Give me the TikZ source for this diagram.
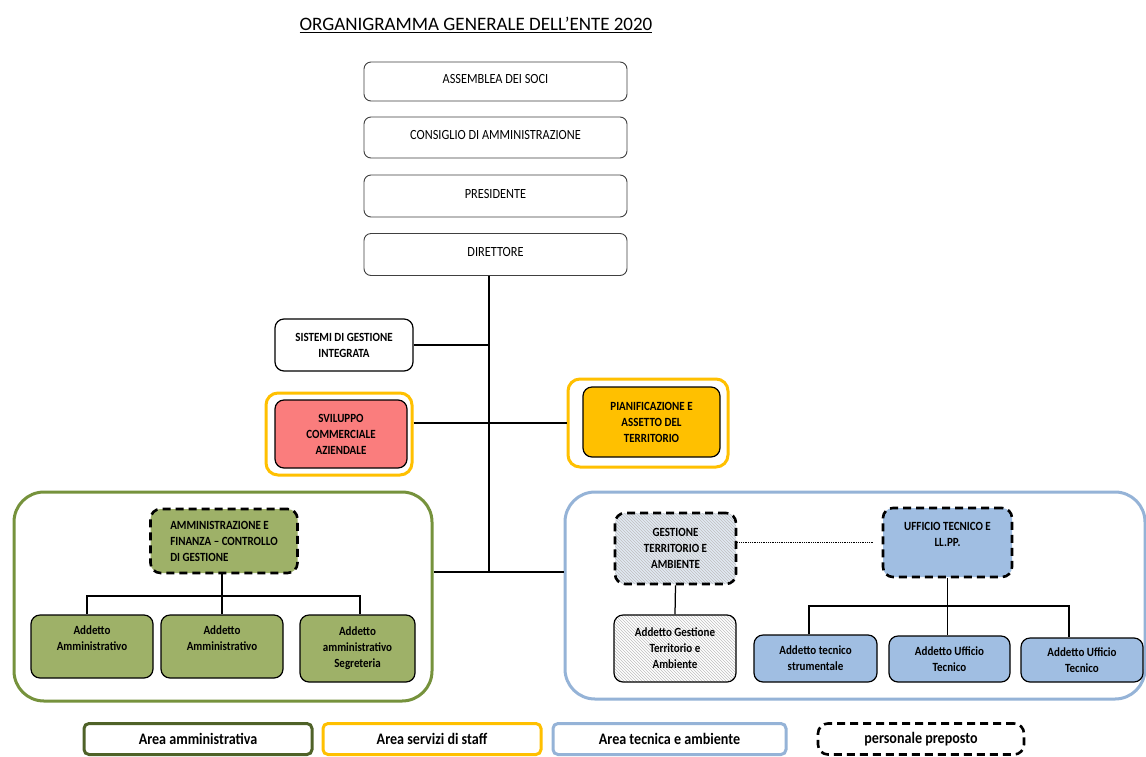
\documentclass[tikz,border=0pt]{standalone}
\usepackage{fontspec}
\setmainfont{Carlito}
\newfontfamily\cond{Carlito}[FakeStretch=0.88]
\usetikzlibrary{patterns}
\definecolor{frgreen}{RGB}{118,146,60}
\definecolor{lggreen}{RGB}{79,98,40}
\definecolor{fillgreen}{RGB}{158,177,104}
\definecolor{frblue}{RGB}{149,179,215}
\definecolor{fillblue}{RGB}{160,190,226}
\definecolor{hatchbg}{RGB}{225,233,243}
\definecolor{fryellow}{RGB}{255,192,0}
\definecolor{fillred}{RGB}{250,125,125}
\definecolor{fillorange}{RGB}{255,192,0}
\begin{document}
\begin{tikzpicture}[x=1pt,y=-1pt,
  sz/.style 2 args={minimum width=#1pt, minimum height=#2pt},
  topbox/.style={draw=black!75, line width=0.9pt, rounded corners=7pt, inner sep=0pt, font=\cond\fontsize{14}{16}\selectfont, text depth=5pt},
  unit/.style={draw=black, line width=1.2pt, rounded corners=9pt, inner sep=0pt, align=center, font=\cond\fontsize{12.5}{16}\bfseries\selectfont},
  preposto/.style={draw=black, line width=2.6pt, dash pattern=on 8pt off 5pt, rounded corners=10pt},
  hatched/.style={preaction={fill=#1}, pattern=north west lines, pattern color=black!25},
  staffframe/.style={draw=fryellow, line width=3pt, rounded corners=12pt, inner sep=0pt},
  areaframe/.style={line width=3pt, rounded corners=30pt, inner sep=0pt},
  legbox/.style={line width=3pt, rounded corners=5pt, inner sep=0pt, minimum height=31pt, font=\cond\fontsize{16}{18}\bfseries\selectfont},
  conn/.style={draw=black, line width=1.25pt}
]
\useasboundingbox[fill=white] (0,0) rectangle (1146,756);

% title
\node (title) at (476,25) {\fontsize{19}{22}\selectfont\underline{ORGANIGRAMMA GENERALE DELL’ENTE 2020}};

% area frames
\node[areaframe, draw=frgreen, sz={418}{209}] (areaA) at (223,596.5) {};
\node[areaframe, draw=frblue, sz={580}{207}] (areaB) at (855,595.5) {};

% staff frames
\node[staffframe, sz={146}{82}] (svilf) at (339,434) {};
\node[staffframe, sz={160}{88}] (pianf) at (648,423) {};

% top boxes
\node[topbox, sz={263}{39}] (ass) at (495.5,81.5) {ASSEMBLEA DEI SOCI};
\node[topbox, sz={263}{41}] (cons) at (495.5,137.5) {CONSIGLIO DI AMMINISTRAZIONE};
\node[topbox, sz={263}{42}] (pres) at (495.5,196) {PRESIDENTE};
\node[topbox, sz={263}{42}] (dir) at (495.5,254.5) {DIRETTORE};

% staff
\node[unit, fill=white, sz={138}{52}] (sis) at (344,345) {SISTEMI DI GESTIONE\\INTEGRATA};
\node[unit, fill=fillred, sz={132}{68}] (svil) at (341,434) {SVILUPPO\\COMMERCIALE\\AZIENDALE};
\node[unit, fill=fillorange, sz={137}{70}] (pian) at (651.5,422) {PIANIFICAZIONE E\\ASSETTO DEL\\TERRITORIO};

% area amministrativa
\node[unit, preposto, fill=fillgreen, align=left, sz={147}{64}] (amm) at (224,541) {AMMINISTRAZIONE E\\FINANZA – CONTROLLO\\DI GESTIONE};
\node[unit, fill=fillgreen, sz={122}{63}] (a1) at (92,646.5) {Addetto\\Amministrativo\\~};
\node[unit, fill=fillgreen, sz={122}{63}] (a2) at (222,646.5) {Addetto\\Amministrativo\\~};
\node[unit, fill=fillgreen, sz={115}{67}] (a3) at (357.5,648.5) {Addetto\\amministrativo\\Segreteria};

% area tecnica
\node[unit, preposto, hatched=hatchbg, sz={121}{71}] (gest) at (675.5,548.5) {GESTIONE\\TERRITORIO E\\AMBIENTE};
\node[unit, hatched=white, sz={122}{67}] (ag) at (675,648.5) {Addetto Gestione\\Territorio e\\Ambiente};
\node[unit, preposto, fill=fillblue, sz={129}{69}] (uff) at (947.5,542.5) {UFFICIO TECNICO E\\LL.PP.\\~};
\node[unit, fill=fillblue, sz={123}{47}] (t1) at (815.5,658.5) {Addetto tecnico\\strumentale};
\node[unit, fill=fillblue, sz={121}{46}] (t2) at (949.5,659) {Addetto Ufficio\\Tecnico};
\node[unit, fill=fillblue, sz={122}{44}] (t3) at (1082,660) {Addetto Ufficio\\Tecnico};

% legend
\node[legbox, draw=lggreen, minimum width=228pt] (l1) at (198,739) {Area amministrativa};
\node[legbox, draw=fryellow, minimum width=218pt] (l2) at (432,739) {Area servizi di staff};
\node[legbox, draw=frblue, minimum width=233pt] (l3) at (669.5,739) {Area tecnica e ambiente};
\node[legbox, preposto, minimum width=206pt] (l4) at (921,739) {personale preposto};

% connectors
\coordinate (trunk) at (489,572);
\draw[conn] (dir.south -| trunk) -- (trunk);
\draw[conn] (areaA.east |- trunk) -- (areaB.west |- trunk);
\draw[conn] (sis.east) -- (sis.east -| trunk);
\draw[conn] (svilf.east |- pianf.west) -- (pianf.west);

\coordinate (abus) at (222,596);
\draw[conn] (amm.south -| abus) -- (a2.north -| abus);
\draw[conn] ([xshift=-5pt]a1.north) -- ([xshift=-5pt]a1.north |- abus) -- ([xshift=2.5pt]a3.north |- abus) -- ([xshift=2.5pt]a3.north);

\draw[conn] (gest.south) -- (ag.north);
\draw[black, line width=0.8pt, densely dotted] (gest.east |- uff.west) -- ([xshift=-9pt]uff.west);
\coordinate (tbus) at (946,606);
\draw[conn] (uff.south) -- (uff.south |- t2.north);
\draw[conn] ([xshift=-6.5pt]t1.north) -- ([xshift=-6.5pt]t1.north |- tbus) -- ([xshift=-13pt]t3.north |- tbus) -- ([xshift=-13pt]t3.north);
\end{tikzpicture}
\end{document}
